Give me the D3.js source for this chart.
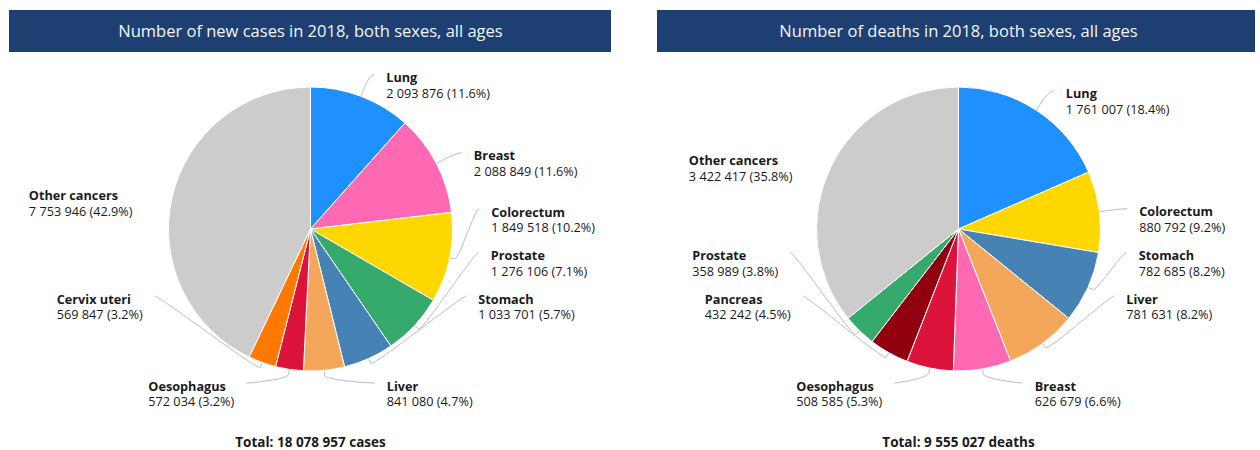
<!DOCTYPE html>
<html>
<head>
<meta charset="utf-8">
<script src="https://cdn.jsdelivr.net/npm/d3@7/dist/d3.min.js"></script>
<style>
html, body { margin: 0; padding: 0; background: #ffffff; }
svg { display: block; font-family: "Open Sans", "Noto Sans", sans-serif; }
</style>
</head>
<body>
<svg id="chart" width="1260" height="450"></svg>
<script>
// ---------------- DATA ----------------
const casesCategories = ["Lung", "Breast", "Colorectum", "Prostate", "Stomach", "Liver", "Oesophagus", "Cervix uteri", "Other cancers"];
const casesValues = [2093876, 2088849, 1849518, 1276106, 1033701, 841080, 572034, 569847, 7753946];

const deathsCategories = ["Lung", "Colorectum", "Stomach", "Liver", "Breast", "Oesophagus", "Pancreas", "Prostate", "Other cancers"];
const deathsValues = [1761007, 880792, 782685, 781631, 626679, 508585, 432242, 358989, 3422417];

const panelTitles = ["Number of new cases in 2018, both sexes, all ages", "Number of deaths in 2018, both sexes, all ages"];
const totalUnits = ["cases", "deaths"];

const colorCategories = ["Lung", "Breast", "Colorectum", "Prostate", "Stomach", "Liver", "Oesophagus", "Cervix uteri", "Pancreas", "Other cancers"];
const colorValues = ["#1e90ff", "#ff69b4", "#ffd700", "#36a96c", "#4682b4", "#f4a65a", "#dc143c", "#ff7800", "#91000f", "#cccccc"];

// ---------------- LAYOUT ----------------
const svg = d3.select("#chart");
const color = d3.scaleOrdinal().domain(colorCategories).range(colorValues);
const fmt = v => d3.format(",")(v).replace(/,/g, " ");

const panels = [
  { x0: 9, w: 602, cx: 310.5, cats: casesCategories, vals: casesValues },
  { x0: 657, w: 598, cx: 958.5, cats: deathsCategories, vals: deathsValues }
];
const CY = 229, RADIUS = 142, LABEL_DIST = 23, LABEL_H = 43.5, BOTTOM_EXTRA = 12, CONN_OFF = 5;
const LABEL_FS = "12.7px";

function distribute(items, lo, hi, h) {
  let boxes = items.map(d => ({ targets: [d.ny], items: [d] }));
  let overlapping = true;
  let guard = 0;
  while (overlapping && guard++ < 100) {
    boxes.forEach(b => {
      const n = b.items.length;
      const t = (d3.min(b.targets) + d3.max(b.targets)) / 2;
      let pos = t - (n - 1) * h / 2;
      pos = Math.min(pos, hi - (n - 1) * h);
      pos = Math.max(pos, lo);
      b.pos = pos;
    });
    overlapping = false;
    for (let i = boxes.length - 1; i > 0; i--) {
      const prev = boxes[i - 1], cur = boxes[i];
      if (prev.pos + prev.items.length * h > cur.pos + 0.01) {
        prev.targets = prev.targets.concat(cur.targets);
        prev.items = prev.items.concat(cur.items);
        boxes.splice(i, 1);
        overlapping = true;
      }
    }
  }
  boxes.forEach(b => b.items.forEach((d, k) => { d.y = b.pos + k * h; }));
}

function drawPanel(p, idx) {
  const g = svg.append("g");
  // header
  g.append("rect").attr("x", p.x0).attr("y", 10).attr("width", p.w).attr("height", 42)
    .attr("fill", "#1d3f72");
  g.append("text").attr("x", p.cx).attr("y", 37).attr("text-anchor", "middle")
    .attr("fill", "#f4f6fa").attr("font-size", "16.5px").text(panelTitles[idx]);

  const cx = p.cx, cy = CY, r = RADIUS;
  const data = p.cats.map((c, i) => ({ name: c, value: p.vals[i] }));
  const total = d3.sum(p.vals);
  const arcs = d3.pie().sort(null).value(d => d.value).startAngle(0).endAngle(2 * Math.PI)(data);
  const arcGen = d3.arc().innerRadius(0).outerRadius(r);

  const R = r + LABEL_DIST;
  const labels = arcs.map(a => {
    const m = (a.startAngle + a.endAngle) / 2;
    return { a, m, name: a.data.name, value: a.data.value, ny: cy - R * Math.cos(m), right: m < Math.PI };
  });
  const top = cy - R, bottom = cy + r + BOTTOM_EXTRA;
  [true, false].forEach(side => {
    const items = labels.filter(l => l.right === side).sort((a, b) => a.ny - b.ny);
    if (!items.length) return;
    distribute(items, top, bottom - LABEL_H, LABEL_H);
    const last = items[items.length - 1];
    if (last.ny > last.y) last.y = Math.min(last.ny, bottom);
  });

  // connectors
  const cg = g.append("g");
  labels.forEach(l => {
    const s = l.right ? 1 : -1;
    const dy = Math.max(-R, Math.min(R, l.y - cy));
    const dx = Math.sqrt(R * R - dy * dy);
    l.xe = cx + s * (dx + 5);
    l.xc = cx + s * dx;
    if (l.name === "Other cancers") return;
    const tx = cx + r * Math.sin(l.m), ty = cy - r * Math.cos(l.m);
    const bx = cx + (r + CONN_OFF) * Math.sin(l.m), by = cy - (r + CONN_OFF) * Math.cos(l.m);
    const path = `M${l.xe},${l.y}C${l.xc},${l.y} ${2 * bx - tx},${2 * by - ty} ${bx},${by}L${tx},${ty}`;
    cg.append("path").attr("d", path).attr("fill", "none").attr("stroke", "#bbbbbb").attr("stroke-width", 1);
  });

  // pie
  const pg = g.append("g").attr("transform", `translate(${cx},${cy})`);
  pg.selectAll("path").data(arcs).join("path")
    .attr("d", arcGen)
    .attr("fill", d => color(d.data.name))
    .attr("stroke", "#ffffff").attr("stroke-width", 1).attr("stroke-linejoin", "round");

  // labels
  const lg = g.append("g");
  labels.forEach(l => {
    const t = lg.append("g");
    const n = t.append("text").attr("y", l.y + 7.5).attr("font-size", LABEL_FS).attr("font-weight", "bold")
      .attr("fill", "#1a1a1a").text(l.name);
    const pct = (l.value / total * 100).toFixed(1);
    const v = t.append("text").attr("y", l.y + 23.3).attr("font-size", LABEL_FS)
      .attr("fill", "#1a1a1a").text(`${fmt(l.value)} (${pct}%)`);
    let x;
    if (l.right) {
      x = l.xe + 12;
    } else {
      const w = Math.max(n.node().getComputedTextLength(), v.node().getComputedTextLength());
      x = l.xe - 12 - w;
    }
    n.attr("x", x); v.attr("x", x);
  });

  // total
  g.append("text").attr("x", cx).attr("y", 447).attr("text-anchor", "middle")
    .attr("font-size", "13.5px").attr("font-weight", "bold").attr("fill", "#1a1a1a")
    .text(`Total: ${fmt(total)} ${totalUnits[idx]}`);
}

panels.forEach(drawPanel);
</script>
</body>
</html>
